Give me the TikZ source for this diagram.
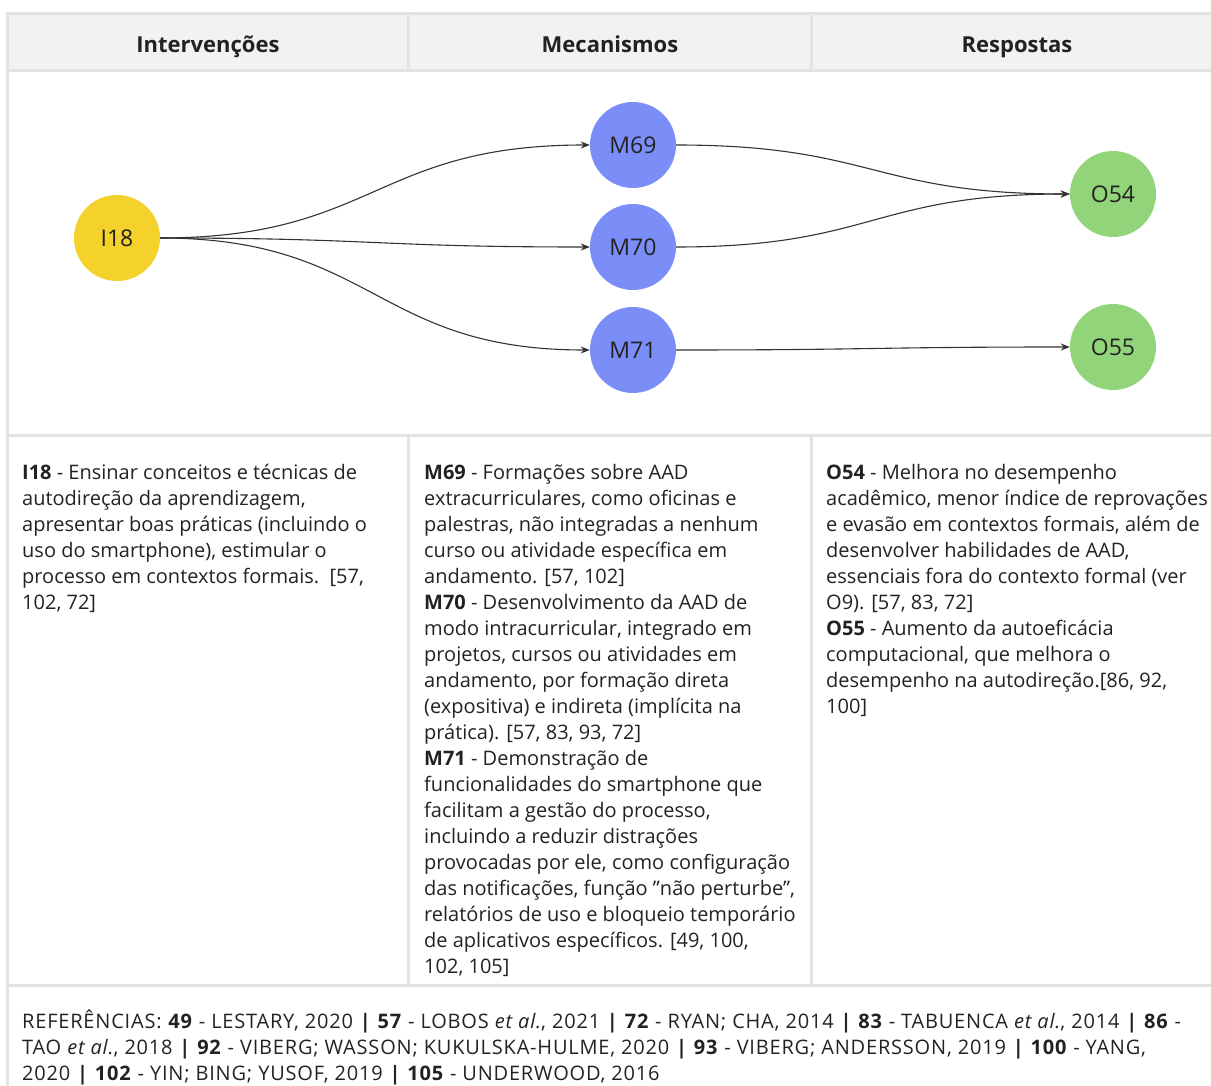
\documentclass[tikz,border=0pt]{standalone}
\usepackage{fontspec}
\setmainfont{Open Sans}
\usetikzlibrary{arrows.meta}
\definecolor{gridc}{HTML}{E3E3E3}
\definecolor{headc}{HTML}{F2F2F2}
\definecolor{yel}{HTML}{F4D12B}
\definecolor{blu}{HTML}{7B8EF8}
\definecolor{grn}{HTML}{92D47A}
\definecolor{ink}{HTML}{222222}
\definecolor{edgec}{HTML}{333333}
\begin{document}
\begin{tikzpicture}[x=1pt,y=-1pt,
  grid/.style={draw=gridc,line width=3pt},
  head/.style={font=\fontsize{22}{24}\selectfont\bfseries,text=ink,inner sep=0pt,anchor=base},
  body/.style={font=\fontsize{20}{26}\selectfont,text=ink,align=left,anchor=base west,inner sep=0pt},
  dot/.style={circle,minimum size=86pt,inner sep=0pt,font=\fontsize{23}{24}\selectfont,text=ink},
  conn/.style={draw=edgec,line width=1.1pt,-{Stealth[length=9pt,width=7pt]}}
]
\useasboundingbox (0,0) rectangle (1211,1086);
% table
\fill[headc] (7,14) rectangle (1216,71);
\draw[grid] (5.5,14) -- (1216,14);
\draw[grid] (7,71) -- (1216,71);
\draw[grid] (7,435) -- (1216,435);
\draw[grid] (7,985) -- (1216,985);
\draw[grid] (7,12.5) -- (7,1090);
\draw[grid] (408,14) -- (408,71);
\draw[grid] (811,14) -- (811,71);
\draw[grid] (408,435) -- (408,985);
\draw[grid] (811,435) -- (811,985);
% headers
\node[head] (h1) at (208,53) {Intervenções};
\node[head] (h2) at (610,53) {Mecanismos};
\node[head] (h3) at (1017,53) {Respostas};
% nodes
\node[dot,fill=yel] (I18) at (117,238) {I18};
\node[dot,fill=blu] (M69) at (633,145) {M69};
\node[dot,fill=blu] (M70) at (633,247) {M70};
\node[dot,fill=blu] (M71) at (633,350) {M71};
\node[dot,fill=grn] (O54) at (1113,194) {O54};
\node[dot,fill=grn] (O55) at (1113,347) {O55};
% connectors
\draw[conn] (I18.east) .. controls +(215,0) and +(-215,0) .. (M69.west);
\draw[conn] (I18.east) .. controls +(215,0) and +(-215,0) .. (M70.west);
\draw[conn] (I18.east) .. controls +(215,0) and +(-215,0) .. (M71.west);
\draw[conn] (M69.east) .. controls +(197,0) and +(-197,0) .. (O54.west);
\draw[conn] (M70.east) .. controls +(197,0) and +(-197,0) .. (O54.west);
\draw[conn] (M71.east) .. controls +(197,0) and +(-197,0) .. (O55.west);
% texts (anchor at last line)
\node[body] (t1) at (22,609) {\textbf{I18} - Ensinar conceitos e técnicas de\\
autodireção da aprendizagem,\\
apresentar boas práticas (incluindo o\\
uso do smartphone), estimular o\\
processo em contextos formais.~~[57,\\
102, 72]};
\node[body] (t2) at (424,973) {\textbf{M69} - Formações sobre AAD\\
extracurriculares, como oficinas e\\
palestras, não integradas a nenhum\\
curso ou atividade específica em\\
andamento. [57, 102]\\
\textbf{M70} - Desenvolvimento da AAD de\\
modo intracurricular, integrado em\\
projetos, cursos ou atividades em\\
andamento, por formação direta\\
(expositiva) e indireta (implícita na\\
prática). [57, 83, 93, 72]\\
\textbf{M71} - Demonstração de\\
funcionalidades do smartphone que\\
facilitam a gestão do processo,\\
incluindo a reduzir distrações\\
provocadas por ele, como configuração\\
das notificações, função \symbol{34}não perturbe\symbol{34},\\
relatórios de uso e bloqueio temporário\\
de aplicativos específicos. [49, 100,\\
102, 105]};
\node[body] (t3) at (826,713) {\textbf{O54} - Melhora no desempenho\\
acadêmico, menor índice de reprovações\\
e evasão em contextos formais, além de\\
desenvolver habilidades de AAD,\\
essenciais fora do contexto formal (ver\\
O9). [57, 83, 72]\\
\textbf{O55} - Aumento da autoeficácia\\
computacional, que melhora o\\
desempenho na autodireção.[86, 92,\\
100]};
\node[body,font=\fontsize{20}{26}\selectfont\addfontfeatures{LetterSpace=4}] (refs) at (22,1080) {REFERÊNCIAS: \textbf{49} - LESTARY, 2020 \textbf{|} \textbf{57} - LOBOS \textit{et al.}, 2021 \textbf{|} \textbf{72} - RYAN; CHA, 2014 \textbf{|} \textbf{83} - TABUENCA \textit{et al.}, 2014 \textbf{|} \textbf{86} -\\
TAO \textit{et al.}, 2018 \textbf{|} \textbf{92} - VIBERG; WASSON; KUKULSKA-HULME, 2020 \textbf{|} \textbf{93} - VIBERG; ANDERSSON, 2019 \textbf{|} \textbf{100} - YANG,\\
2020 \textbf{|} \textbf{102} - YIN; BING; YUSOF, 2019 \textbf{|} \textbf{105} - UNDERWOOD, 2016};
\end{tikzpicture}
\end{document}
